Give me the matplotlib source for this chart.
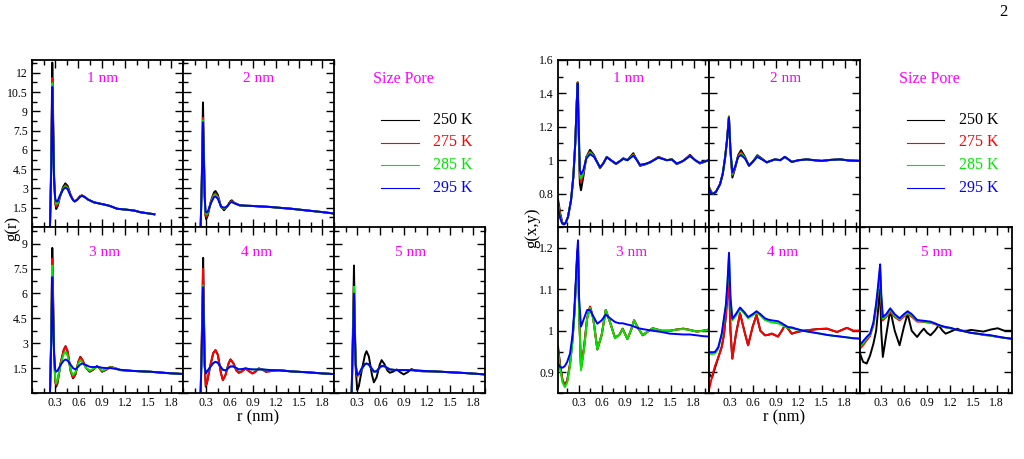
import matplotlib
matplotlib.use("Agg")
import matplotlib.pyplot as plt
from matplotlib.ticker import FixedLocator, MultipleLocator, FuncFormatter
from matplotlib.lines import Line2D

plt.rcParams['font.family'] = ['Liberation Serif', 'DejaVu Serif']

W, H = 1024, 459

temps = ['250 K', '275 K', '285 K', '295 K']
colors = ['#000000', '#ff0000', '#00e600', '#0000ff']
pores = ['1 nm', '2 nm', '3 nm', '4 nm', '5 nm']
x_ticks = [0.3, 0.6, 0.9, 1.2, 1.5, 1.8]
gr_ticks_top = [1.5, 3, 4.5, 6, 7.5, 9, 10.5, 12]
gr_ticks_bot = [1.5, 3, 4.5, 6, 7.5, 9]
gxy_ticks_top = [0.8, 1.0, 1.2, 1.4, 1.6]
gxy_ticks_bot = [0.9, 1.0, 1.1, 1.2]

# ---------------- g(r), left figure ----------------
# 1 nm
r1L = [0.232, 0.248, 0.262, 0.272, 0.285, 0.30, 0.312, 0.33, 0.36, 0.40, 0.43, 0.46, 0.50, 0.53, 0.55,
       0.58, 0.62, 0.645, 0.68, 0.72, 0.80, 0.93, 1.00, 1.10, 1.22, 1.32, 1.40, 1.50, 1.58]
tail1L = [1.92, 1.75, 1.65, 1.42, 1.35, 1.28, 1.15, 1.06, 0.99]
g1L_250 = [0, 5.0, 12.8, 9.0, 4.0, 1.9, 1.4, 1.6, 2.3, 3.1, 3.4, 3.2, 2.5, 2.1, 1.98, 2.1, 2.4, 2.47, 2.35, 2.15] + tail1L
g1L_275 = [0, 4.6, 11.6, 8.3, 3.8, 2.0, 1.6, 1.75, 2.35, 3.0, 3.25, 3.1, 2.45, 2.1, 1.99, 2.1, 2.38, 2.45, 2.34, 2.15] + tail1L
g1L_285 = [0, 4.4, 11.2, 8.0, 3.7, 2.1, 1.8, 1.85, 2.4, 2.95, 3.15, 3.0, 2.42, 2.1, 2.0, 2.1, 2.36, 2.44, 2.33, 2.15] + tail1L
g1L_295 = [0, 4.3, 10.9, 7.8, 3.6, 2.2, 2.0, 2.0, 2.45, 2.9, 3.07, 2.95, 2.4, 2.1, 2.0, 2.1, 2.35, 2.43, 2.33, 2.15] + tail1L

# 2 nm
r2L = [0.228, 0.243, 0.258, 0.268, 0.28, 0.29, 0.30, 0.32, 0.36, 0.40, 0.42, 0.45, 0.49, 0.53, 0.57,
       0.61, 0.63, 0.66, 0.73, 0.80, 0.89, 1.00, 1.10, 1.24, 1.40, 1.55, 1.66, 1.80, 1.95]
tail2L = [1.69, 1.66, 1.64, 1.6, 1.57, 1.5, 1.42, 1.32, 1.25, 1.16, 1.05]
g2L_250 = [0, 4.0, 9.7, 6.5, 2.5, 0.9, 0.6, 0.9, 2.0, 2.7, 2.8, 2.5, 1.6, 1.3, 1.6, 2.0, 2.08, 1.9] + tail2L
g2L_275 = [0, 3.6, 8.5, 5.8, 2.4, 1.0, 0.8, 1.0, 1.95, 2.55, 2.6, 2.35, 1.6, 1.4, 1.6, 1.95, 2.0, 1.88] + tail2L
g2L_285 = [0, 3.5, 8.3, 5.7, 2.4, 1.1, 1.0, 1.1, 1.9, 2.45, 2.5, 2.3, 1.6, 1.45, 1.6, 1.93, 1.98, 1.87] + tail2L
g2L_295 = [0, 3.4, 8.15, 5.6, 2.4, 1.25, 1.12, 1.2, 1.85, 2.33, 2.37, 2.2, 1.6, 1.5, 1.6, 1.9, 1.95, 1.85] + tail2L

# 3 nm
r3L = [0.232, 0.248, 0.262, 0.272, 0.285, 0.30, 0.312, 0.33, 0.37, 0.41, 0.433, 0.46, 0.50, 0.53, 0.56, 0.60,
       0.624, 0.65, 0.70, 0.745, 0.79, 0.84, 0.87, 0.905, 0.96, 1.01, 1.07, 1.14, 1.30, 1.53, 1.75, 1.97]
tail3L = [1.33, 1.28, 1.2, 1.14]
g3L_250 = [0, 3.5, 8.74, 6.0, 2.5, 0.7, 0.38, 0.6, 1.8, 2.6, 2.82, 2.5, 1.3, 0.88, 1.1, 1.9, 2.18, 2.0, 1.5,
           1.28, 1.4, 1.62, 1.5, 1.28, 1.4, 1.58, 1.5, 1.38] + tail3L
g3L_275 = [0, 3.2, 8.08, 5.6, 2.4, 0.75, 0.48, 0.7, 1.8, 2.6, 2.8, 2.5, 1.3, 0.92, 1.12, 1.9, 2.15, 2.0, 1.5,
           1.3, 1.42, 1.6, 1.5, 1.3, 1.42, 1.57, 1.5, 1.38] + tail3L
g3L_285 = [0, 3.1, 7.68, 5.3, 2.3, 0.85, 0.58, 0.8, 1.7, 2.35, 2.48, 2.25, 1.35, 1.08, 1.25, 1.8, 1.98, 1.85, 1.5,
           1.35, 1.45, 1.58, 1.52, 1.35, 1.44, 1.55, 1.5, 1.38] + tail3L
g3L_295 = [0, 2.8, 6.98, 4.8, 2.3, 1.4, 1.28, 1.35, 1.7, 1.95, 2.02, 1.95, 1.7, 1.5, 1.42, 1.6, 1.72, 1.78, 1.68,
           1.58, 1.56, 1.58, 1.56, 1.52, 1.5, 1.5, 1.46, 1.4] + tail3L

# 4 nm
r4L = [0.228, 0.243, 0.26, 0.27, 0.28, 0.294, 0.31, 0.35, 0.39, 0.42, 0.45, 0.49, 0.515, 0.55, 0.59, 0.613,
       0.65, 0.69, 0.72, 0.76, 0.81, 0.855, 0.90, 0.94, 0.98, 1.03, 1.07, 1.15, 1.24, 1.40, 1.60, 1.80, 1.95]
tail4L_cold = [1.6, 2.4, 2.58, 2.3, 1.2, 0.78, 1.1, 1.8, 2.02, 1.8, 1.35, 1.22, 1.3, 1.48, 1.3, 1.18, 1.3,
               1.48, 1.4, 1.28, 1.33, 1.38, 1.3, 1.25, 1.18, 1.14]
tail4L_warm = [1.55, 1.8, 1.88, 1.82, 1.55, 1.4, 1.36, 1.52, 1.6, 1.6, 1.5, 1.42, 1.44, 1.48, 1.44, 1.42, 1.42,
               1.42, 1.42, 1.4, 1.38, 1.36, 1.3, 1.25, 1.18, 1.14]
g4L_250 = [0, 3.5, 8.14, 5.0, 1.8, 0.38, 0.6] + tail4L_cold
g4L_275 = [0, 3.2, 7.48, 4.7, 1.8, 0.45, 0.65] + tail4L_cold
g4L_285 = [0, 2.8, 6.48, 4.0, 1.6, 1.18, 1.3] + tail4L_warm
g4L_295 = [0, 2.7, 6.38, 3.9, 1.6, 1.18, 1.3] + tail4L_warm

# 5 nm
r5L = [0.228, 0.243, 0.258, 0.268, 0.28, 0.30, 0.32, 0.36, 0.40, 0.42, 0.45, 0.49, 0.515, 0.55, 0.59, 0.615,
       0.65, 0.69, 0.72, 0.76, 0.81, 0.855, 0.90, 0.95, 1.0, 1.05, 1.15, 1.30, 1.50, 1.70, 1.95]
tail5L = [1.42, 1.4, 1.38, 1.38, 1.38, 1.38, 1.38, 1.36, 1.33, 1.3, 1.25, 1.2, 1.12]
g5L_250 = [0, 3.5, 7.68, 4.5, 1.5, 0.18, 0.4, 1.4, 2.3, 2.52, 2.2, 1.1, 0.64, 0.95, 1.7, 1.98, 1.75, 1.35,
           1.22, 1.28, 1.42, 1.25, 1.12, 1.25, 1.44, 1.35, 1.3, 1.3, 1.25, 1.2, 1.12]
g5L_275 = [0, 3.0, 6.38, 4.0, 1.7, 1.0, 1.1, 1.45, 1.72, 1.76, 1.7, 1.45, 1.32, 1.32, 1.52, 1.6, 1.62, 1.5] + tail5L
g5L_285 = [0, 3.0, 6.4, 4.0, 1.7, 1.04, 1.12, 1.47, 1.73, 1.77, 1.71, 1.45, 1.3, 1.31, 1.53, 1.62, 1.62, 1.5] + tail5L
g5L_295 = [0, 2.8, 5.98, 3.8, 1.7, 1.08, 1.15, 1.5, 1.75, 1.78, 1.72, 1.45, 1.28, 1.3, 1.55, 1.64, 1.62, 1.5] + tail5L

# ---------------- g(x,y), right figure ----------------
# 1 nm
r1R = [0.03, 0.06, 0.085, 0.108, 0.13, 0.16, 0.20, 0.23, 0.255, 0.275, 0.287, 0.30, 0.315, 0.33, 0.36, 0.40,
       0.448, 0.50, 0.578, 0.62, 0.666, 0.72, 0.787, 0.84, 0.882, 0.935, 1.013, 1.06, 1.10, 1.17, 1.23, 1.34,
       1.45, 1.515, 1.58, 1.66, 1.753, 1.82, 1.88, 2.0]
g1R_250 = [0.766, 0.68, 0.63, 0.616, 0.625, 0.66, 0.76, 0.90, 1.10, 1.35, 1.466, 1.15, 0.86, 0.82, 0.90, 1.02,
           1.062, 1.03, 0.952, 0.98, 1.02, 1.0, 0.976, 0.995, 1.012, 1.0, 1.042, 1.0, 0.966, 0.975, 0.986, 1.02,
           1.0, 1.006, 0.976, 0.995, 1.032, 1.0, 0.98, 1.0]
g1R_275 = [0.745, 0.67, 0.625, 0.616, 0.625, 0.66, 0.76, 0.90, 1.10, 1.35, 1.466, 1.17, 0.90, 0.87, 0.92, 1.02,
           1.05, 1.025, 0.955, 0.98, 1.02, 1.0, 0.978, 0.995, 1.01, 1.0, 1.035, 1.0, 0.97, 0.977, 0.987, 1.018,
           1.0, 1.005, 0.978, 0.995, 1.028, 1.0, 0.982, 1.0]
g1R_285 = [0.73, 0.66, 0.622, 0.616, 0.625, 0.66, 0.76, 0.90, 1.10, 1.35, 1.463, 1.18, 0.92, 0.89, 0.93, 1.015,
           1.045, 1.022, 0.956, 0.98, 1.019, 1.0, 0.979, 0.995, 1.009, 1.0, 1.031, 1.0, 0.971, 0.977, 0.987, 1.016,
           1.0, 1.005, 0.979, 0.995, 1.026, 1.0, 0.983, 1.0]
g1R_295 = [0.716, 0.65, 0.62, 0.616, 0.625, 0.66, 0.76, 0.90, 1.10, 1.35, 1.46, 1.2, 0.94, 0.916, 0.94, 1.01,
           1.036, 1.02, 0.958, 0.98, 1.018, 1.0, 0.98, 0.995, 1.008, 1.0, 1.027, 1.0, 0.972, 0.978, 0.988, 1.015,
           1.0, 1.004, 0.98, 0.995, 1.025, 1.0, 0.984, 1.0]

# 2 nm
r2R = [0.03, 0.06, 0.086, 0.12, 0.174, 0.21, 0.24, 0.265, 0.29, 0.31, 0.335, 0.37, 0.41, 0.448, 0.50, 0.552,
       0.60, 0.66, 0.72, 0.783, 0.89, 0.96, 1.02, 1.11, 1.20, 1.305, 1.40, 1.5, 1.62, 1.74, 1.86, 1.98]
tail2R = [1.005, 1.0, 1.02, 0.99, 1.0, 1.005, 1.0, 0.996, 1.002, 1.005, 0.998, 0.996]
g2R_250 = [0.84, 0.81, 0.80, 0.81, 0.856, 0.92, 1.016, 1.12, 1.262, 1.05, 0.896, 0.95, 1.03, 1.06, 1.02, 0.966,
           0.99, 1.03, 1.01, 0.986] + tail2R
g2R_275 = [0.835, 0.805, 0.80, 0.81, 0.856, 0.92, 1.016, 1.12, 1.26, 1.055, 0.91, 0.955, 1.025, 1.048, 1.015,
           0.967, 0.99, 1.025, 1.008, 0.987] + tail2R
g2R_285 = [0.833, 0.803, 0.80, 0.81, 0.856, 0.92, 1.016, 1.12, 1.258, 1.058, 0.918, 0.958, 1.022, 1.04, 1.012,
           0.968, 0.99, 1.022, 1.006, 0.988] + tail2R
g2R_295 = [0.83, 0.80, 0.80, 0.81, 0.856, 0.92, 1.016, 1.12, 1.255, 1.06, 0.926, 0.96, 1.02, 1.03, 1.01, 0.968,
           0.99, 1.02, 1.005, 0.988] + tail2R

# 3 nm
r3R = [0.03, 0.06, 0.09, 0.12, 0.15, 0.187, 0.22, 0.243, 0.265, 0.28, 0.291, 0.305, 0.33, 0.37, 0.41, 0.448,
       0.49, 0.543, 0.60, 0.653, 0.71, 0.774, 0.83, 0.874, 0.935, 0.98, 1.022, 1.08, 1.136, 1.20, 1.266, 1.38,
       1.49, 1.58, 1.666, 1.75, 1.84, 1.92, 2.0]
tail3R = [0.88, 0.869, 0.88, 0.92, 0.98, 1.04, 1.12, 1.18, 1.20, 1.05, 0.909, 0.96, 1.03, 1.058, 1.03, 0.955,
          0.99, 1.05, 1.02, 0.983, 0.99, 1.005, 0.98, 1.0, 1.025, 1.005, 0.989, 0.998, 1.006, 1.0, 1.0, 1.003,
          1.005, 1.002, 0.998, 1.0, 1.003]
g3R_250 = [0.962, 0.915] + tail3R
g3R_275 = [0.957, 0.91] + tail3R
g3R_285 = [0.95, 0.905, 0.875, 0.864, 0.875, 0.915, 0.975, 1.035, 1.115, 1.17, 1.19, 1.04, 0.905, 0.955, 1.028,
           1.055, 1.028, 0.955, 0.99, 1.05, 1.02, 0.982, 0.99, 1.004, 0.98, 1.0, 1.024, 1.005, 0.99, 0.998, 1.006,
           1.0, 1.0, 1.003, 1.004, 1.002, 0.998, 1.0, 1.002]
g3R_295 = [0.921, 0.912, 0.911, 0.915, 0.925, 0.945, 0.99, 1.05, 1.13, 1.19, 1.218, 1.08, 1.01, 1.03, 1.05, 1.05,
           1.035, 1.017, 1.025, 1.039, 1.03, 1.021, 1.018, 1.018, 1.015, 1.013, 1.01, 1.006, 1.004, 1.002, 1.0,
           0.997, 0.993, 0.992, 0.991, 0.991, 0.989, 0.987, 0.986]

# 4 nm
r4R = [0.03, 0.07, 0.108, 0.15, 0.196, 0.225, 0.252, 0.272, 0.291, 0.31, 0.334, 0.38, 0.435, 0.49, 0.54, 0.60,
       0.65, 0.70, 0.76, 0.80, 0.85, 0.93, 0.98, 1.02, 1.06, 1.11, 1.18, 1.26, 1.35, 1.45, 1.57, 1.65, 1.70, 1.83,
       1.91, 2.0]
tail4R = [0.935, 0.961, 0.99, 1.04, 1.09, 1.12, 1.0, 0.933, 0.99, 1.042, 1.0, 0.965, 1.01, 1.038, 1.0, 0.989,
          0.99, 0.993, 0.986, 1.0, 1.013, 1.005, 0.993, 0.997, 1.0, 1.002, 1.004, 1.005, 1.0, 0.997, 1.007, 1.0, 1.0]
g4R_250 = [0.897, 0.887, 0.91] + tail4R
g4R_275 = [0.857, 0.89, 0.915] + tail4R
g4R_285 = [0.945, 0.944, 0.945, 0.956, 0.99, 1.027, 1.062, 1.115, 1.18, 1.075, 1.025, 1.036, 1.052, 1.042, 1.03,
           1.037, 1.044, 1.037, 1.026, 1.023, 1.02, 1.018, 1.014, 1.01, 1.007, 1.006, 1.003, 1.0, 0.997, 0.994,
           0.99, 0.988, 0.987, 0.984, 0.982, 0.981]
g4R_295 = [0.949, 0.948, 0.949, 0.96, 0.993, 1.03, 1.065, 1.12, 1.188, 1.08, 1.029, 1.04, 1.056, 1.045, 1.033,
           1.04, 1.047, 1.04, 1.03, 1.027, 1.025, 1.023, 1.018, 1.013, 1.009, 1.008, 1.004, 1.0, 0.997, 0.994, 0.99,
           0.988, 0.987, 0.984, 0.982, 0.981]

# 5 nm
r5R = [0.03, 0.07, 0.117, 0.16, 0.204, 0.239, 0.265, 0.28, 0.291, 0.305, 0.326, 0.37, 0.422, 0.48, 0.543, 0.60,
       0.647, 0.70, 0.77, 0.81, 0.857, 0.90, 0.944, 1.0, 1.05, 1.10, 1.14, 1.205, 1.29, 1.35, 1.42, 1.466, 1.55,
       1.63, 1.727, 1.815, 1.90, 1.988]
g5R_250 = [0.945, 0.925, 0.921, 0.94, 0.969, 1.0, 1.05, 1.09, 1.10, 1.0, 0.937, 0.99, 1.05, 1.0, 0.965, 1.01,
           1.041, 1.0, 0.985, 0.995, 1.005, 0.995, 0.989, 1.0, 1.013, 1.0, 0.993, 0.998, 1.005, 1.0, 1.0, 1.002,
           1.0, 0.998, 1.003, 1.006, 1.0, 1.0]
g5R_275 = [0.957, 0.965, 0.977, 0.987, 1.013, 1.055, 1.095, 1.12, 1.135, 1.07, 1.025, 1.033, 1.045, 1.033, 1.025,
           1.034, 1.04, 1.034, 1.022, 1.022, 1.021, 1.02, 1.019, 1.016, 1.012, 1.01, 1.008, 1.006, 1.002, 1.0,
           0.997, 0.995, 0.993, 0.99, 0.988, 0.985, 0.983, 0.981]
g5R_285 = [0.961, 0.97, 0.981, 0.99, 1.016, 1.06, 1.1, 1.13, 1.148, 1.08, 1.029, 1.036, 1.05, 1.036, 1.027,
           1.037, 1.043, 1.037, 1.024, 1.023, 1.022, 1.021, 1.02, 1.017, 1.013, 1.01, 1.008, 1.006, 1.002, 1.0,
           0.997, 0.995, 0.993, 0.99, 0.988, 0.985, 0.983, 0.981]
g5R_295 = [0.966, 0.975, 0.985, 0.993, 1.02, 1.065, 1.11, 1.14, 1.16, 1.09, 1.033, 1.04, 1.054, 1.04, 1.03, 1.04,
           1.047, 1.04, 1.026, 1.025, 1.024, 1.023, 1.022, 1.018, 1.014, 1.011, 1.009, 1.007, 1.002, 1.0, 0.997,
           0.995, 0.993, 0.991, 0.989, 0.986, 0.983, 0.981]

left_r = [r1L, r2L, r3L, r4L, r5L]
left_g = [[g1L_250, g1L_275, g1L_285, g1L_295], [g2L_250, g2L_275, g2L_285, g2L_295],
          [g3L_250, g3L_275, g3L_285, g3L_295], [g4L_250, g4L_275, g4L_285, g4L_295],
          [g5L_250, g5L_275, g5L_285, g5L_295]]
right_r = [r1R, r2R, r3R, r4R, r5R]
right_g = [[g1R_250, g1R_275, g1R_285, g1R_295], [g2R_250, g2R_275, g2R_285, g2R_295],
           [g3R_250, g3R_275, g3R_285, g3R_295], [g4R_250, g4R_275, g4R_285, g4R_295],
           [g5R_250, g5R_275, g5R_285, g5R_295]]


def rect(x0, y0, x1, y1):
    # pixel box -> figure fraction
    return [x0 / W, 1 - y1 / H, (x1 - x0) / W, (y1 - y0) / H]


fig = plt.figure(figsize=(W / 100, H / 100), dpi=100)

rows = [(60, 227), (227, 393)]
cells = [(0, 0), (0, 1), (1, 0), (1, 1), (1, 2)]
fmt = FuncFormatter(lambda v, p: '%g' % v)


def panel(box, r, curves, xlim, ylim, yticks, yminor, show_x, show_y, title, title_x, title_y):
    ax = fig.add_axes(rect(*box))
    for g, c in zip(curves, colors):
        ax.plot(r, g, color=c, lw=1.4, solid_joinstyle='round')
    ax.set_xlim(*xlim)
    ax.set_ylim(*ylim)
    ax.xaxis.set_major_locator(FixedLocator(x_ticks))
    ax.xaxis.set_minor_locator(MultipleLocator(0.15))
    ax.yaxis.set_major_locator(FixedLocator(yticks))
    ax.yaxis.set_minor_locator(MultipleLocator(yminor))
    ax.xaxis.set_major_formatter(fmt)
    ax.yaxis.set_major_formatter(fmt)
    ax.tick_params(which='both', direction='in', top=True, right=True, width=1.0,
                   labelsize=8.5, pad=3, labelbottom=show_x, labelleft=show_y)
    ax.tick_params(which='major', length=6)
    ax.tick_params(which='minor', length=3.5)
    for s in ax.spines.values():
        s.set_linewidth(1.3)
    fig.text(title_x / W, 1 - title_y / H, title, color='#ff00ff', fontsize=11, ha='center', va='center')
    return ax


def legend_block(xc, x_line0, x_line1, x_text):
    fig.text(xc / W, 1 - 79 / H, 'Size Pore', color='#ff00ff', fontsize=11.5, ha='center', va='center')
    for i, (t, c) in enumerate(zip(temps, colors)):
        y = 1 - (120 + 22.5 * i) / H
        fig.add_artist(Line2D([x_line0 / W, x_line1 / W], [y, y], color=c, lw=0.8,
                              transform=fig.transFigure))
        fig.text(x_text / W, y, t, color=c, fontsize=11.5, ha='left', va='center')


# left figure: g(r)
left_cols = [(32, 183), (183, 334), (334, 485)]
left_title_x = [103, 259, 105, 257, 411]
for k in range(5):
    rw, cl = cells[k]
    box = (left_cols[cl][0], rows[rw][0], left_cols[cl][1], rows[rw][1])
    ylim = (0, 13) if rw == 0 else (0, 10)
    yt = gr_ticks_top if rw == 0 else gr_ticks_bot
    ty = 78 if rw == 0 else 253
    panel(box, left_r[k], left_g[k], (0, 1.95), ylim, yt, 0.75, rw == 1, cl == 0,
          pores[k], left_title_x[k], ty)

# right figure: g(x,y)
right_cols = [(558, 709), (709, 860), (860, 1012)]
right_title_x = [629, 786, 632, 783, 937]
for k in range(5):
    rw, cl = cells[k]
    box = (right_cols[cl][0], rows[rw][0], right_cols[cl][1], rows[rw][1])
    ylim = (0.6, 1.6) if rw == 0 else (0.85, 1.25)
    yt = gxy_ticks_top if rw == 0 else gxy_ticks_bot
    ym = 0.1 if rw == 0 else 0.05
    ty = 78 if rw == 0 else 253
    panel(box, right_r[k], right_g[k], (0.03, 2.0), ylim, yt, ym, rw == 1, cl == 0,
          pores[k], right_title_x[k], ty)

legend_block(403, 381, 419, 433)
legend_block(929, 907, 944, 959)

fig.text(12 / W, 1 - 228 / H, 'g(r)', rotation=90, fontsize=12, ha='center', va='center')
fig.text(532 / W, 1 - 228 / H, 'g(x,y)', rotation=90, fontsize=12, ha='center', va='center')
fig.text(258 / W, 1 - 417 / H, 'r (nm)', fontsize=12, ha='center', va='center')
fig.text(784 / W, 1 - 417 / H, 'r (nm)', fontsize=12, ha='center', va='center')
fig.text(1003 / W, 1 - 12 / H, '2', fontsize=12, ha='center', va='center')

fig.savefig('out.png', dpi=100)
